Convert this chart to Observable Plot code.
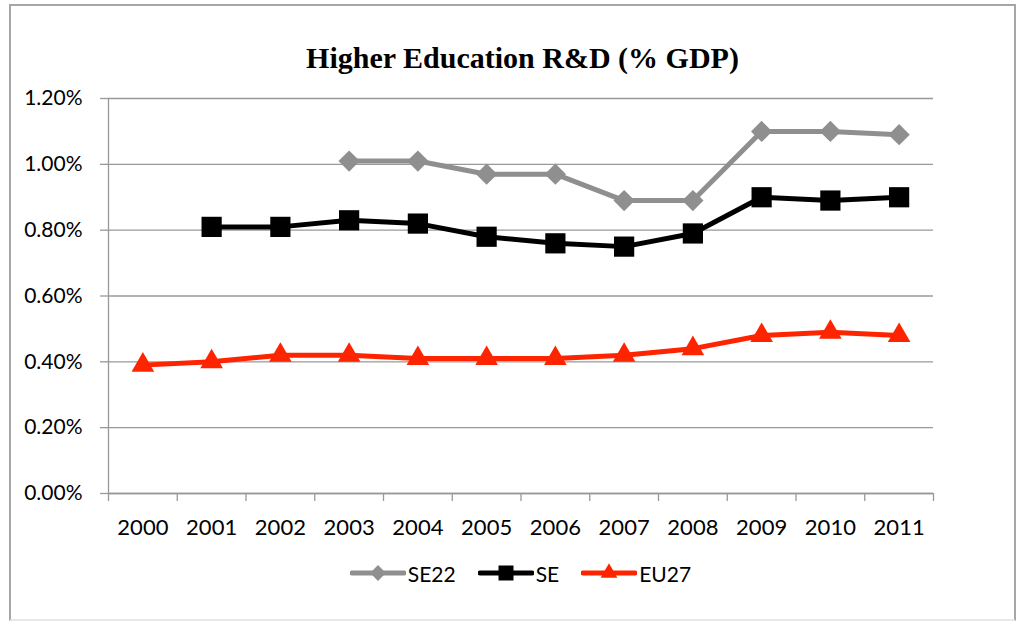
<!DOCTYPE html>
<html>
<head>
<meta charset="utf-8">
<script src="https://cdn.jsdelivr.net/npm/d3@7"></script>
<script src="https://cdn.jsdelivr.net/npm/@observablehq/plot@0.6"></script>
<style>
  html, body { margin: 0; padding: 0; background: #fff; }
  #wrap { position: relative; width: 1019px; height: 621px; overflow: hidden; background: #fff; }
  #frame { position: absolute; left: 9px; top: 4px; width: 1003px; height: 613px;
           border: 2px solid #a6a6a6; border-bottom-color: #e8e8e8; }
  #title { position: absolute; left: 0; width: 1045px; top: 41px; text-align: center;
           font-family: "Liberation Serif", "DejaVu Serif", serif; font-weight: bold; font-size: 30px; color: #000; }
  #chart { position: absolute; left: 0; top: 0; }
  #legend { position: absolute; left: 0; top: 560px; width: 1019px; display: flex; justify-content: center;
            font-family: Lato, "Open Sans", sans-serif; font-size: 21px; color: #000; padding-left: 22px; box-sizing: border-box; }
  .item { display: flex; align-items: center; margin: 0 11px; }
  .item svg { margin-right: 2px; }
</style>
</head>
<body>
<div id="wrap">
  <div id="frame"></div>
  <div id="chart"></div>
  <div id="title">Higher Education R&amp;D (% GDP)</div>
  <div id="legend"></div>
</div>
<script>
// ---- data ----
const years = [2000, 2001, 2002, 2003, 2004, 2005, 2006, 2007, 2008, 2009, 2010, 2011];
const se22Years = [2003, 2004, 2005, 2006, 2007, 2008, 2009, 2010, 2011];
const se22Values = [0.0101, 0.0101, 0.0097, 0.0097, 0.0089, 0.0089, 0.0110, 0.0110, 0.0109];
const seYears = [2001, 2002, 2003, 2004, 2005, 2006, 2007, 2008, 2009, 2010, 2011];
const seValues = [0.0081, 0.0081, 0.0083, 0.0082, 0.0078, 0.0076, 0.0075, 0.0079, 0.0090, 0.0089, 0.0090];
const eu27Years = [2000, 2001, 2002, 2003, 2004, 2005, 2006, 2007, 2008, 2009, 2010, 2011];
const eu27Values = [0.0039, 0.0040, 0.0042, 0.0042, 0.0041, 0.0041, 0.0041, 0.0042, 0.0044, 0.0048, 0.0049, 0.0048];
const yTicks = [0, 0.002, 0.004, 0.006, 0.008, 0.010, 0.012];
const seriesNames = ["SE22", "SE", "EU27"];
const seriesColors = ["#8f8f8f", "#000000", "#ff2400"];
const seriesSymbols = ["diamond2", "square", "triangle"];
const seriesR = [9.6, 11.4, 8.4];

const mk = (ys, vs) => ys.map((y, i) => ({year: y, value: vs[i]}));
const se22 = mk(se22Years, se22Values);
const se = mk(seYears, seValues);
const eu27 = mk(eu27Years, eu27Values);
const allSeries = [se22, se, eu27];

const boundaries = years.map(y => y - 0.5).concat([years[years.length - 1] + 0.5]);
const gridColor = "#999999";

const marks = [
  Plot.gridY(yTicks, {stroke: gridColor, strokeOpacity: 1, strokeWidth: 1.3}),
  Plot.axisY(yTicks, {tickSize: 8, tickPadding: 18, tickFormat: d3.format(".2%"), stroke: gridColor, strokeWidth: 1.3,
                      fontSize: 21, fontFamily: "Lato", fill: "#000", label: null}),
  Plot.ruleX([boundaries[0]], {stroke: gridColor, strokeWidth: 1.3}),
  Plot.ruleY([0], {stroke: gridColor, strokeWidth: 1.3}),
  Plot.axisX(boundaries, {tickSize: 8, tickFormat: () => "", stroke: gridColor, strokeWidth: 1.3, label: null}),
  Plot.axisX(years, {tickSize: 0, tickPadding: 26, tickFormat: d => String(d), fontSize: 22, fontFamily: "Lato", fill: "#000", label: null})
];
allSeries.forEach((s, i) => {
  marks.push(Plot.line(s, {x: "year", y: "value", stroke: seriesColors[i], strokeWidth: 5}));
  marks.push(Plot.dot(s, {x: "year", y: "value", symbol: () => seriesSymbols[i], r: seriesR[i],
                          fill: seriesColors[i], stroke: "none"}));
});

const chart = Plot.plot({
  width: 1019,
  height: 540,
  marginLeft: 108,
  marginRight: 86,
  marginTop: 98,
  marginBottom: 47,
  x: {type: "linear", domain: [boundaries[0], boundaries[boundaries.length - 1]], axis: null, label: null},
  y: {domain: [0, 0.012], axis: null, label: null},
  style: {background: "transparent", overflow: "visible"},
  marks
});
document.getElementById("chart").appendChild(chart);

// legend
const legend = document.getElementById("legend");
seriesNames.forEach((name, i) => {
  const item = document.createElement("div");
  item.className = "item";
  const w = 56, h = 26;
  const svg = d3.create("svg").attr("width", w).attr("height", h);
  svg.append("line").attr("x1", 2).attr("x2", w - 2).attr("y1", h / 2).attr("y2", h / 2)
    .attr("stroke", seriesColors[i]).attr("stroke-width", 5).attr("stroke-linecap", "round");
  const symMap = {diamond2: d3.symbolDiamond2, square: d3.symbolSquare, triangle: d3.symbolTriangle};
  svg.append("path").attr("transform", `translate(${w / 2},${h / 2})`)
    .attr("d", d3.symbol(symMap[seriesSymbols[i]], Math.PI * seriesR[i] * seriesR[i] * 0.55)())
    .attr("fill", seriesColors[i]);
  item.appendChild(svg.node());
  const span = document.createElement("span");
  span.textContent = name;
  item.appendChild(span);
  legend.appendChild(item);
});
</script>
</body>
</html>
